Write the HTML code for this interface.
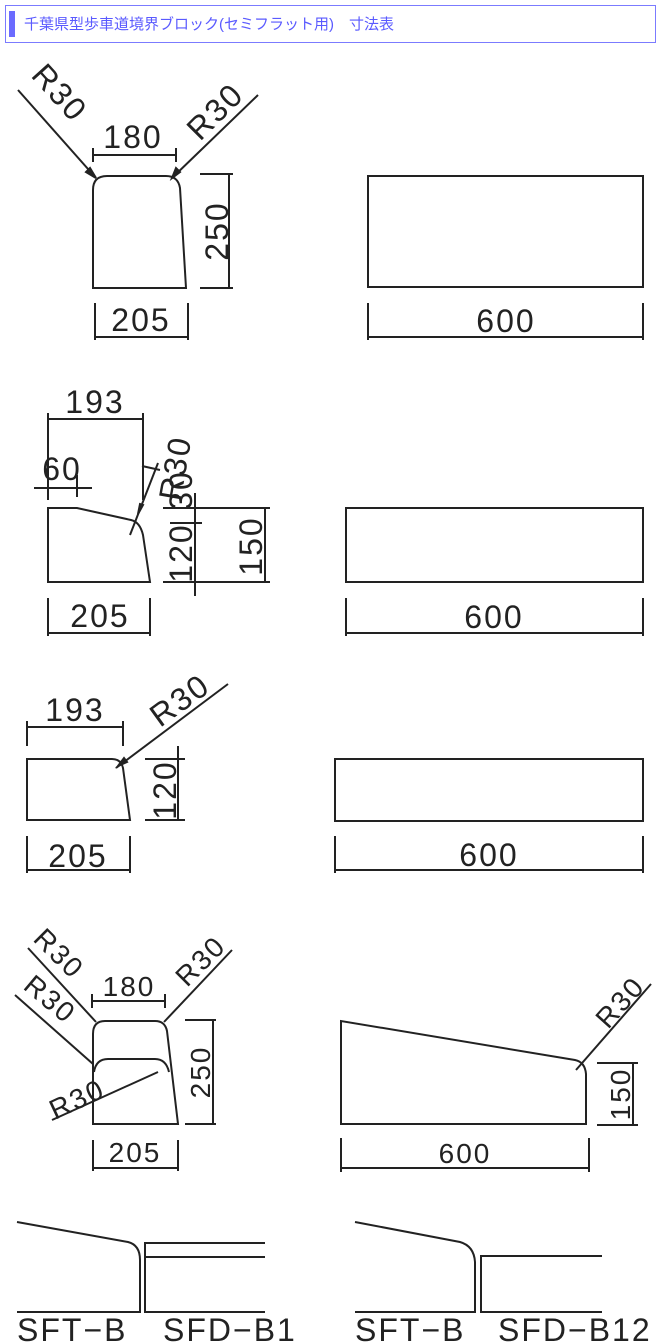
<!DOCTYPE html>
<html><head><meta charset="utf-8"><style>
html,body{margin:0;padding:0;background:#fff;width:662px;height:1344px;overflow:hidden}
.hd{position:absolute;left:5px;top:5px;width:651px;height:38px;border:1px solid #7b7bff;box-sizing:border-box}
.bar{position:absolute;left:9px;top:11px;width:6px;height:26px;background:#6b6bff}
.ht{position:absolute;left:24px;top:13px;font:15px "Liberation Sans","Noto Sans CJK JP",sans-serif;color:#5a5aff;white-space:nowrap}
svg{position:absolute;left:0;top:0}
svg text{font-family:"Liberation Sans",sans-serif;font-size:32px;fill:#222;letter-spacing:2px}
</style></head><body>
<div class="hd"></div><div class="bar"></div>
<div class="ht">千葉県型歩車道境界ブロック(セミフラット用)　寸法表</div>
<svg width="662" height="1344" viewBox="0 0 662 1344" fill="none" stroke="#222" stroke-width="2">
<!-- Section 1 left -->
<path d="M93 288 V190 Q93 176 107 176 H166 Q178 176 180 188 L186 288 Z"/>
<line x1="18" y1="90" x2="96" y2="178"/><line x1="258" y1="95" x2="172" y2="178"/>
<path d="M96 178 l-10 -6 l4 -4z M172 178 l4 -10 l4 4z" fill="#222"/>
<line x1="93" y1="155" x2="176" y2="155"/><line x1="93" y1="148" x2="93" y2="162"/><line x1="176" y1="148" x2="176" y2="162"/>
<line x1="229" y1="174" x2="229" y2="288"/><line x1="200" y1="174" x2="233" y2="174"/><line x1="200" y1="288" x2="233" y2="288"/>
<line x1="95" y1="337" x2="188" y2="337"/><line x1="95" y1="303" x2="95" y2="340"/><line x1="188" y1="303" x2="188" y2="340"/>
<g stroke="none">
<text x="133" y="148" text-anchor="middle">180</text>
<text x="141" y="331" text-anchor="middle">205</text>
<text transform="translate(228 231) rotate(-90)" text-anchor="middle">250</text>
<text transform="translate(30 76) rotate(48)">R30</text>
<text transform="translate(200 142) rotate(-45)">R30</text>
</g>
<!-- Section 1 right -->
<rect x="368" y="176" width="275" height="111"/>
<line x1="368" y1="337" x2="643" y2="337"/><line x1="368" y1="303" x2="368" y2="340"/><line x1="643" y1="303" x2="643" y2="340"/>
<text x="506" y="332" text-anchor="middle" stroke="none">600</text>

<!-- Section 2 left -->
<path d="M48 582 V508 H77 L131 520 Q140 522 143 535 L150 582 Z"/>
<line x1="48" y1="419" x2="143" y2="419"/><line x1="48" y1="413" x2="48" y2="500"/><line x1="143" y1="413" x2="143" y2="500"/>
<line x1="34" y1="488" x2="92" y2="488"/><line x1="48" y1="475" x2="48" y2="497"/><line x1="77" y1="475" x2="77" y2="497"/>
<line x1="158" y1="463" x2="130" y2="535"/><line x1="142" y1="466" x2="160" y2="470"/>
<path d="M138 514 l2 -10 l3 1z" fill="#222"/>
<line x1="163" y1="508" x2="270" y2="508"/><line x1="163" y1="582" x2="270" y2="582"/>
<line x1="265" y1="508" x2="265" y2="582"/>
<line x1="195" y1="493" x2="195" y2="596"/><line x1="170" y1="523" x2="202" y2="523"/>
<g stroke="none">
<text x="95" y="413" text-anchor="middle">193</text>
<text x="62" y="480" text-anchor="middle">60</text>
<text x="100" y="627" text-anchor="middle">205</text>
<text transform="translate(186 470) rotate(-80)" text-anchor="middle">R30</text>
<text transform="translate(192 490) rotate(-90)" text-anchor="middle">30</text>
<text transform="translate(192 553) rotate(-90)" text-anchor="middle">120</text>
<text transform="translate(262 546) rotate(-90)" text-anchor="middle">150</text>
</g>
<line x1="48" y1="598" x2="48" y2="636"/><line x1="150" y1="598" x2="150" y2="636"/><line x1="48" y1="633" x2="150" y2="633"/>
<!-- Section 2 right -->
<rect x="346" y="508" width="297" height="74"/>
<line x1="346" y1="633" x2="643" y2="633"/><line x1="346" y1="598" x2="346" y2="636"/><line x1="643" y1="598" x2="643" y2="636"/>
<text x="494" y="628" text-anchor="middle" stroke="none">600</text>

<!-- Section 3 left -->
<path d="M27 820 V759 H112 Q121 759 123 768 L130 820 Z"/>
<line x1="27" y1="727" x2="123" y2="727"/><line x1="27" y1="721" x2="27" y2="746"/><line x1="123" y1="721" x2="123" y2="746"/>
<line x1="228" y1="684" x2="116" y2="768"/>
<path d="M118 766 l6 -8 l3 4z" fill="#222"/>
<line x1="178" y1="746" x2="178" y2="820"/><line x1="145" y1="759" x2="185" y2="759"/><line x1="145" y1="820" x2="185" y2="820"/>
<line x1="27" y1="836" x2="27" y2="873"/><line x1="130" y1="836" x2="130" y2="873"/><line x1="27" y1="870" x2="130" y2="870"/>
<g stroke="none">
<text x="75" y="721" text-anchor="middle">193</text>
<text x="78" y="867" text-anchor="middle">205</text>
<text transform="translate(160 728) rotate(-36)">R30</text>
<text transform="translate(176 790) rotate(-90)" text-anchor="middle">120</text>
</g>
<!-- Section 3 right -->
<rect x="335" y="759" width="308" height="62"/>
<line x1="335" y1="870" x2="643" y2="870"/><line x1="335" y1="836" x2="335" y2="873"/><line x1="643" y1="836" x2="643" y2="873"/>
<text x="489" y="866" text-anchor="middle" stroke="none">600</text>

<!-- Section 4 left -->
<path d="M93 1124 V1034 Q93 1021 105 1021 H155 Q165 1021 167 1031 L178 1124 Z"/>
<path d="M94 1072 Q96 1059 108 1059 H155 Q166 1059 169 1072"/>
<line x1="28" y1="948" x2="96" y2="1022"/><line x1="15" y1="995" x2="93" y2="1064"/>
<line x1="232" y1="950" x2="164" y2="1022"/><line x1="52" y1="1120" x2="158" y2="1072"/>
<line x1="92" y1="1001" x2="165" y2="1001"/><line x1="92" y1="994" x2="92" y2="1008"/><line x1="165" y1="994" x2="165" y2="1008"/>
<line x1="213" y1="1020" x2="213" y2="1124"/><line x1="185" y1="1020" x2="216" y2="1020"/><line x1="185" y1="1124" x2="216" y2="1124"/>
<line x1="93" y1="1140" x2="93" y2="1171"/><line x1="178" y1="1140" x2="178" y2="1171"/><line x1="93" y1="1168" x2="178" y2="1168"/>
<g stroke="none">
<text x="129" y="996" text-anchor="middle" style="font-size:28px">180</text>
<text x="135" y="1162" text-anchor="middle" style="font-size:28px">205</text>
<text transform="translate(210 1072) rotate(-90)" text-anchor="middle" style="font-size:28px">250</text>
<text transform="translate(32 940) rotate(45)" style="font-size:28px">R30</text>
<text transform="translate(22 988) rotate(40)" style="font-size:28px">R30</text>
<text transform="translate(187 988) rotate(-45)" style="font-size:28px">R30</text>
<text transform="translate(55 1120) rotate(-25)" style="font-size:28px">R30</text>
</g>
<!-- Section 4 right -->
<path d="M341 1124 V1021 L575 1060 Q585 1062 586 1074 V1124 Z"/>
<line x1="651" y1="984" x2="576" y2="1070"/>
<line x1="597" y1="1063" x2="638" y2="1063"/><line x1="597" y1="1125" x2="638" y2="1125"/><line x1="633" y1="1063" x2="633" y2="1125"/>
<line x1="341" y1="1138" x2="341" y2="1172"/><line x1="589" y1="1138" x2="589" y2="1172"/><line x1="341" y1="1168" x2="589" y2="1168"/>
<g stroke="none">
<text x="465" y="1163" text-anchor="middle" style="font-size:28px">600</text>
<text transform="translate(630 1094) rotate(-90)" text-anchor="middle" style="font-size:28px">150</text>
<text transform="translate(608 1030) rotate(-48)" style="font-size:28px">R30</text>
</g>

<!-- Section 5 -->
<path d="M17 1222 L128 1242 Q140 1245 140 1260 V1312 H17"/>
<path d="M265 1243 H145 V1312 H265 M145 1257 H265"/>
<path d="M355 1222 L460 1242 Q474 1246 475 1262 V1312 H355"/>
<path d="M602 1256 H481 V1312 H602"/>
<g stroke="none">
<text x="17" y="1341">SFT−B</text>
<text x="163" y="1341">SFD−B1</text>
<text x="355" y="1341">SFT−B</text>
<text x="498" y="1341">SFD−B12</text>
</g>
</svg>
</body></html>
